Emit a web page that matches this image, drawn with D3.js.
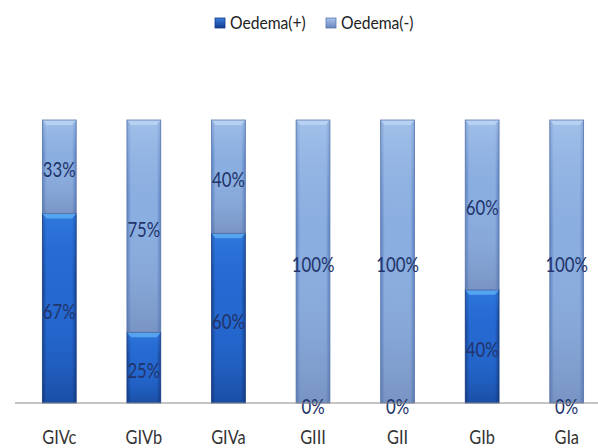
<!DOCTYPE html>
<html><head><meta charset="utf-8">
<script src="https://cdn.jsdelivr.net/npm/d3@7"></script>
<style>body{margin:0;background:#fff}svg{display:block}</style>
</head><body>
<script>
const categories = ["GIVc","GIVb","GIVa","GIII","GII","GIb","GIa"];
const oedemaPos = [67,25,60,0,0,40,0];
const oedemaNeg = [33,75,40,100,100,60,100];
const seriesNames = ["Oedema(+)","Oedema(-)"];

const W=598,H=448;
const font = "Lato, 'Liberation Sans', sans-serif";
const svg = d3.select("body").append("svg").attr("width",W).attr("height",H);
const defs = svg.append("defs");

function hgrad(id, edge, mid){
  const g=defs.append("linearGradient").attr("id",id).attr("x1",0).attr("x2",1).attr("y1",0).attr("y2",0);
  g.append("stop").attr("offset","0%").attr("stop-color",edge);
  g.append("stop").attr("offset","12%").attr("stop-color",mid);
  g.append("stop").attr("offset","88%").attr("stop-color",mid);
  g.append("stop").attr("offset","100%").attr("stop-color",edge);
}
function vgrad(id, stops){
  const g=defs.append("linearGradient").attr("id",id).attr("x1",0).attr("x2",0).attr("y1",0).attr("y2",1);
  stops.forEach(s=>g.append("stop").attr("offset",s[0]).attr("stop-color",s[1]).attr("stop-opacity",s[2]));
}
hgrad("posH","#173f8a","#2468d0");
hgrad("negH","#5a7fbf","#8aaee0");
vgrad("posV",[["0%","#3a86ea",0.5],["40%","#2a6ed8",0],["100%","#0e2f70",0.45]]);
vgrad("negV",[["0%","#b8d2f2",0.5],["40%","#9ab8e6",0],["100%","#5d6c98",0.4]]);
vgrad("legPos",[["0%","#3b7de0",1],["100%","#123c8c",1]]);
vgrad("legNeg",[["0%","#a9c4ec",1],["100%","#6a86bd",1]]);

const x = d3.scaleBand().domain(categories).range([17,609]).paddingInner(0.6).paddingOuter(0.3);
const y = d3.scaleLinear().domain([0,100]).range([403,120]);

const data = categories.map((c,i)=>({cat:c,pos:oedemaPos[i],neg:oedemaNeg[i]}));
const stack = d3.stack().keys(["pos","neg"])(data);

const fills = {pos:["url(#posH)","url(#posV)","#5aaaf2"], neg:["url(#negH)","url(#negV)","#b9d3f3"]};

stack.forEach(layer=>{
  const key=layer.key;
  const g=svg.append("g");
  layer.forEach(d=>{
    const x0=x(d.data.cat), bw=x.bandwidth();
    const yTop=y(d[1]), yBot=y(d[0]), h=yBot-yTop;
    if(h<=0) return;
    g.append("rect").attr("x",x0).attr("y",yTop).attr("width",bw).attr("height",h).attr("fill",fills[key][0]);
    g.append("rect").attr("x",x0).attr("y",yTop).attr("width",bw).attr("height",h).attr("fill",fills[key][1]);
    const c=Math.min(5,h/2);
    g.append("path").attr("d",`M${x0},${yTop}L${x0+bw},${yTop}L${x0+bw-4},${yTop+c}L${x0+4},${yTop+c}Z`).attr("fill",fills[key][2]).attr("opacity",0.9);
    g.append("rect").attr("x",x0).attr("y",yTop).attr("width",bw).attr("height",h).attr("fill","none").attr("stroke",key==="pos"?"#1a3f86":"#5a77ad").attr("stroke-width",0.8);
  });
});

// value labels
stack.forEach(layer=>{
  layer.forEach(d=>{
    const v=d[1]-d[0];
    const cx=x(d.data.cat)+x.bandwidth()/2, cy=(y(d[0])+y(d[1]))/2+10.5;
    svg.append("text").attr("transform",`translate(${cx},${cy}) scale(0.8,1)`)
      .attr("text-anchor","middle").attr("font-family",font).attr("font-size",21)
      .attr("fill","#22346a").text(v+"%");
  });
});

// axis
const ax = svg.append("g").attr("transform","translate(0,403)").call(d3.axisBottom(x).tickSize(0).tickPadding(0));
ax.select(".domain").attr("d","M15,0H598").attr("stroke","#8a8a8a").attr("stroke-width",1);
ax.selectAll(".tick text").attr("font-family",font).attr("font-size",19.5).attr("fill","#333")
  .attr("dy",0).attr("y",0).attr("transform","translate(0,41) scale(0.84,1)");

// legend
const leg = svg.append("g");
const legX=[215,326];
seriesNames.forEach((n,i)=>{
  leg.append("rect").attr("x",legX[i]).attr("y",18).attr("width",10).attr("height",10)
    .attr("fill",i===0?"url(#legPos)":"url(#legNeg)").attr("stroke",i===0?"#15388a":"#5a77ad").attr("stroke-width",0.8);
  leg.append("text").attr("transform",`translate(${legX[i]+15},29) scale(0.87,1)`)
    .attr("font-family",font).attr("font-size",18).attr("fill","#222").text(n);
});
</script>
</body></html>
